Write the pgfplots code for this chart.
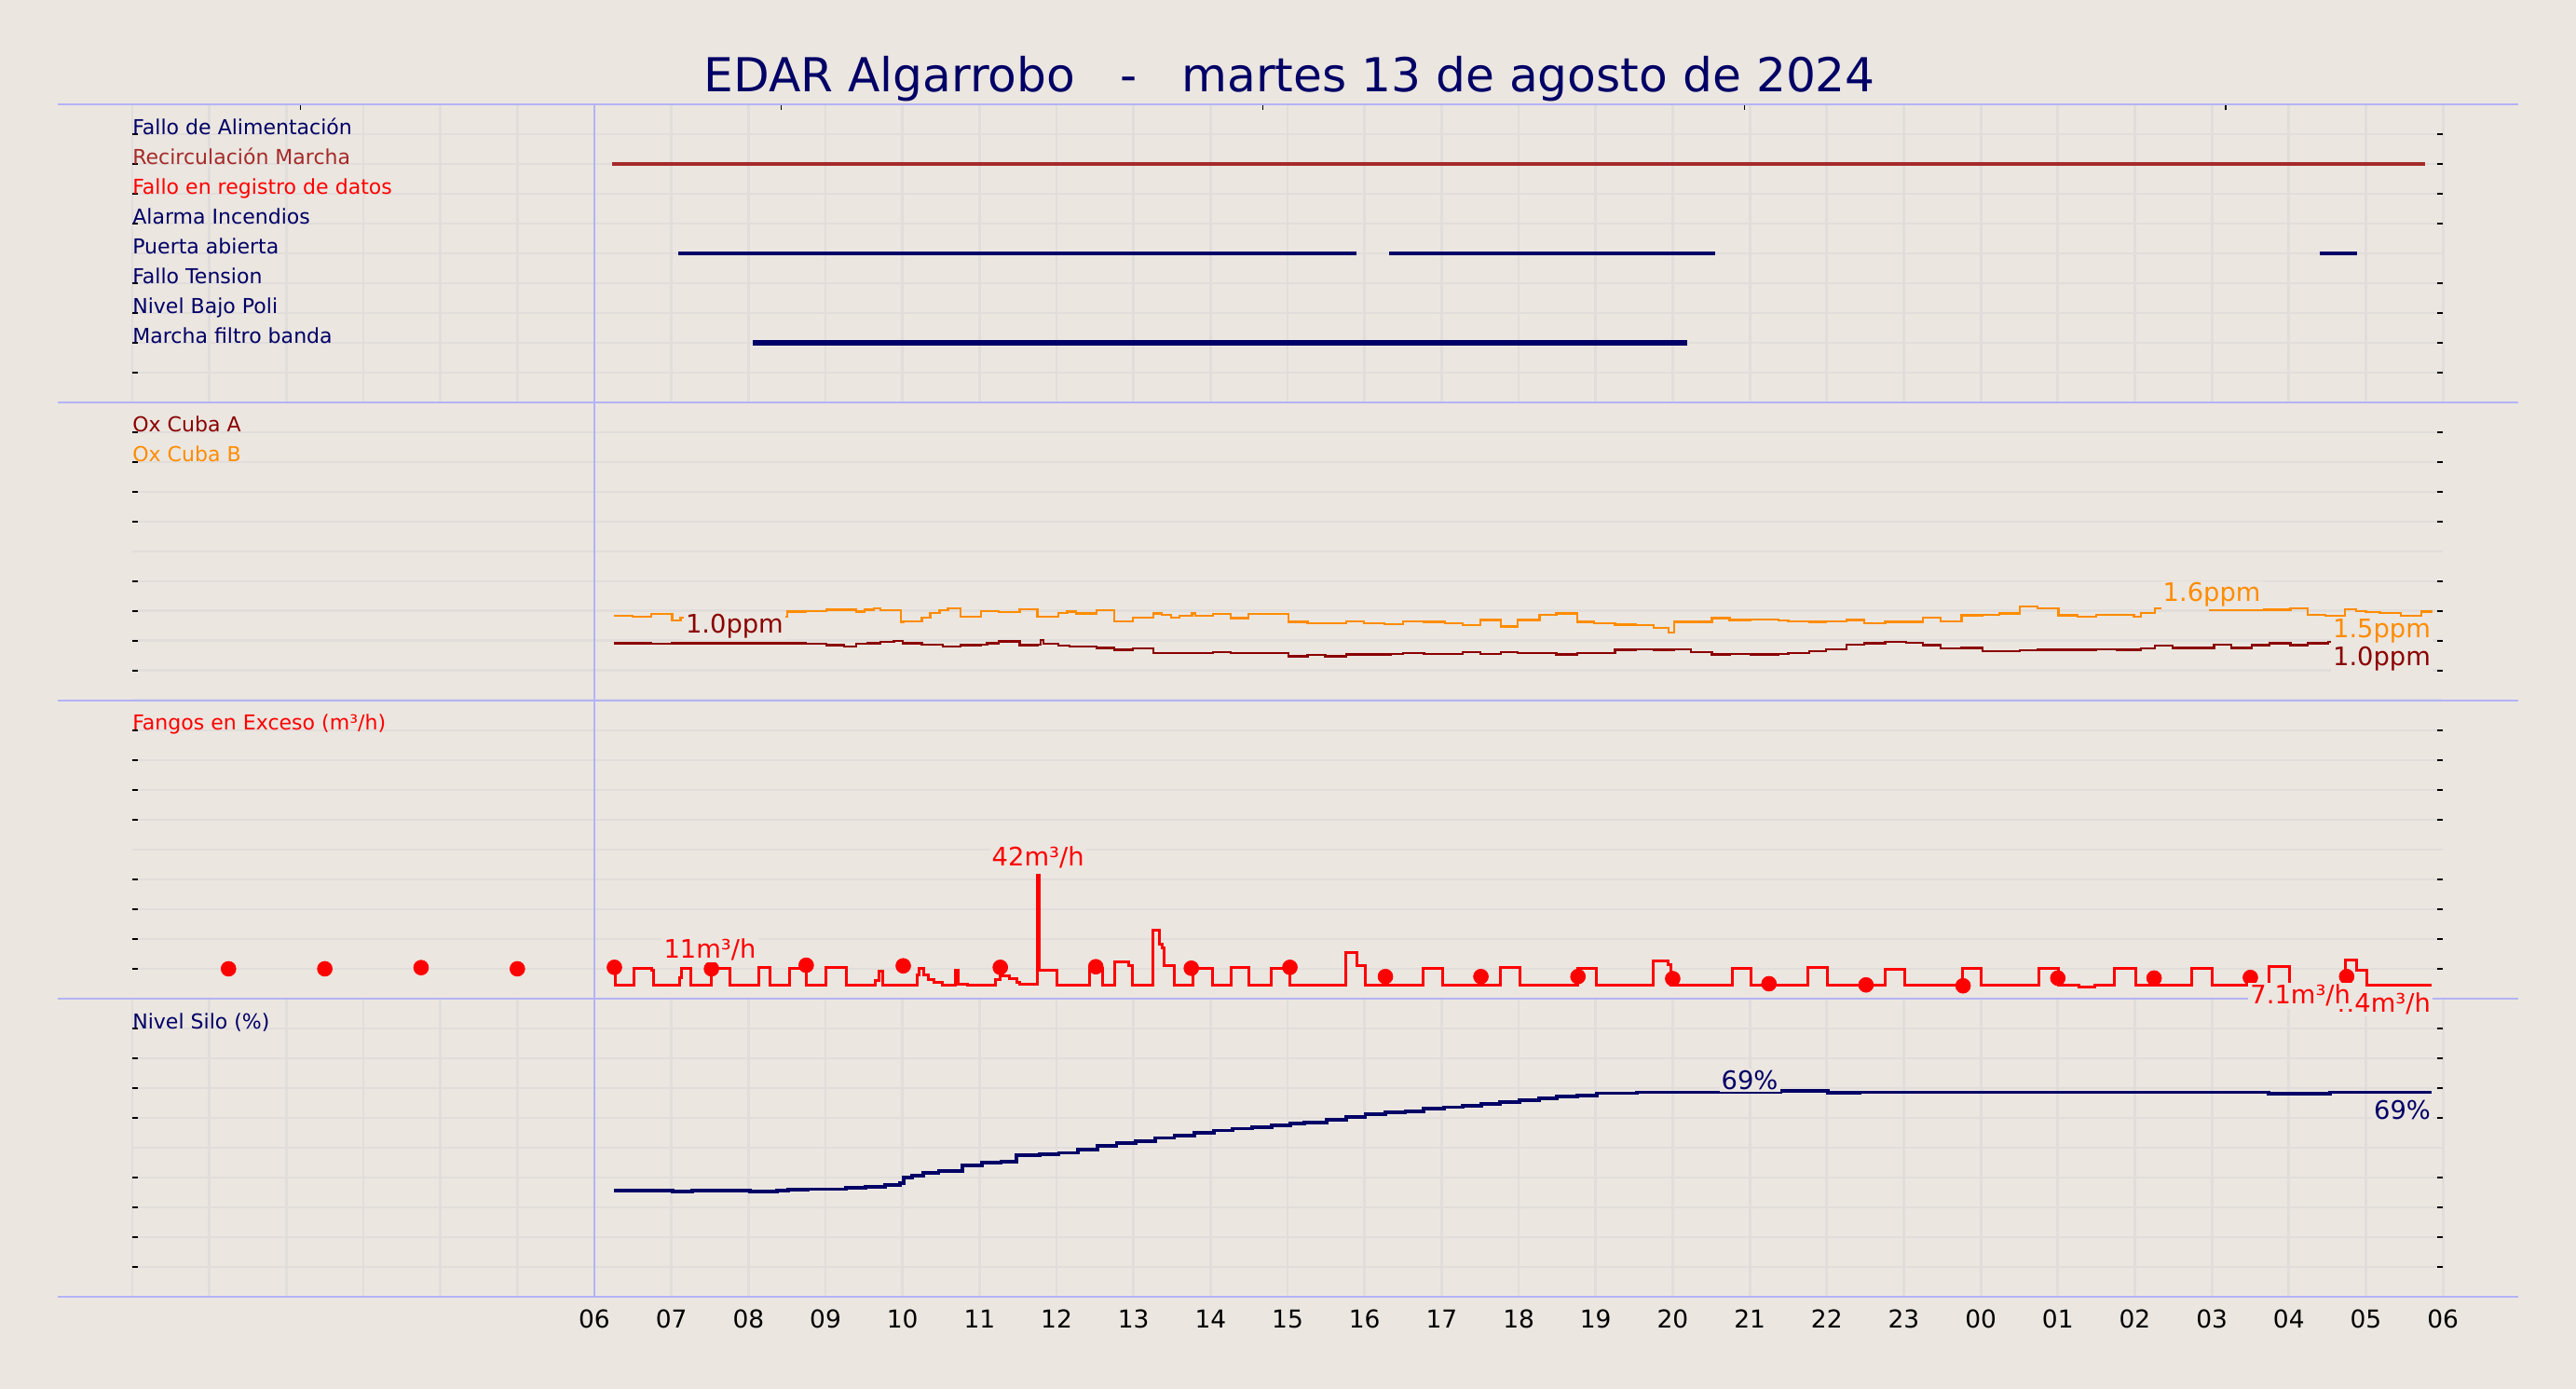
\documentclass[border=0pt]{standalone}
\usepackage{fontspec}
\setmainfont{DejaVu Sans}
\usepackage{pgfplots}
\pgfplotsset{compat=1.18}

\definecolor{bg}{HTML}{EBE6E0}
\definecolor{gridc}{HTML}{E1DDDB}
\definecolor{blueln}{HTML}{B3B3F7}
\definecolor{navyc}{HTML}{000066}
\definecolor{oxa}{HTML}{8B0000}
\definecolor{oxb}{HTML}{FF8C00}
\definecolor{recirc}{HTML}{A52A2A}
\definecolor{fango}{HTML}{FF0000}

\newcommand{\lblfont}{\fontsize{12.5}{15}\selectfont}
\newcommand{\annfont}{\fontsize{15.5}{18}\selectfont}
\newcommand{\hourfont}{\fontsize{15}{18}\selectfont}

\pgfplotsset{
  panel/.style={
    scale only axis, width=1406.5pt, height=181.45pt,
    xmin=0, xmax=30, ymin=0, clip=false,
    axis line style={draw=none},
    xtick=\empty,
    minor xtick={0,1,...,30},
    xminorgrids=true, ymajorgrids=true,
    minor x grid style={gridc, line width=1.6pt},
    major y grid style={gridc, line width=1.6pt},
    minor tick length=0pt, major tick length=3.5pt,
    ytick pos=both, yticklabel=\empty,
    ytick style={black, line width=0.7pt},
    extra y tick labels={},
    extra y tick style={major tick length=0pt, major grid style={gridc, line width=4.5pt}},
  },
}
\tikzset{
  lbl/.style={anchor=base west, inner sep=0pt, font=\lblfont},
  ann/.style={fill=bg, inner sep=1.2pt, font=\annfont},
}

\begin{document}
\begin{tikzpicture}
\fill[bg] (0pt,0pt) rectangle (1568pt,845.5pt);
\useasboundingbox (0pt,0pt) rectangle (1568pt,845.5pt);

\node[navyc, anchor=base, font=\fontsize{28.5}{32}\selectfont] at (785pt,789.5pt)
  {EDAR Algarrobo~~~-~~~martes 13 de agosto de 2024};

% --- panel 1: señales digitales
\begin{axis}[panel, at={(80.5pt,600.5pt)}, anchor=south west,
  ymax=10, ytick={1,2,3,4,6,7,8,9}, extra y ticks={0,5,10},
  xtick={2.18,8.43,14.68,20.93,27.18}, xtick pos=right, xticklabel=\empty,
  xtick style={black, line width=0.6pt}]
\addplot[recirc, line width=1.9pt] coordinates {(6.23,8) (29.77,8)};
\addplot[navyc, line width=1.9pt] coordinates {(7.09,5) (15.90,5)};
\addplot[navyc, line width=1.9pt] coordinates {(16.32,5) (20.55,5)};
\addplot[navyc, line width=1.9pt] coordinates {(28.40,5) (28.89,5)};
\addplot[navyc, line width=3.4pt] coordinates {(8.06,2) (20.19,2)};
\node[lbl, navyc] at (axis cs:0,9) {Fallo de Alimentación};
\node[lbl, recirc] at (axis cs:0,8) {Recirculación Marcha};
\node[lbl, fango] at (axis cs:0,7) {Fallo en registro de datos};
\node[lbl, navyc] at (axis cs:0,6) {Alarma Incendios};
\node[lbl, navyc] at (axis cs:0,5) {Puerta abierta};
\node[lbl, navyc] at (axis cs:0,4) {Fallo Tension};
\node[lbl, navyc] at (axis cs:0,3) {Nivel Bajo Poli};
\node[lbl, navyc] at (axis cs:0,2) {Marcha filtro banda};
\end{axis}

% --- panel 2: oxígeno
\begin{axis}[panel, at={(80.5pt,419.1pt)}, anchor=south west,
  ymax=5, ytick={0.5,1,1.5,2,3,3.5,4,4.5}, extra y ticks={0,2.5,5}]
\addplot[oxb, line width=1.3pt, const plot] coordinates {
(6.25,1.42)(6.50,1.40)(6.74,1.45)(7.01,1.34)(7.12,1.39)(7.25,1.40)(8.0,1.41)(8.50,1.49)
(8.74,1.50)(9.01,1.52)(9.40,1.49)(9.51,1.52)(9.63,1.54)(9.71,1.51)(9.98,1.31)(10.01,1.33)
(10.25,1.39)(10.36,1.47)(10.48,1.51)(10.59,1.54)(10.75,1.40)(11.02,1.50)(11.25,1.48)
(11.52,1.53)(11.75,1.41)(12.02,1.47)(12.14,1.49)(12.25,1.46)(12.52,1.51)(12.75,1.33)
(12.99,1.39)(13.26,1.46)(13.37,1.44)(13.49,1.39)(13.60,1.42)(13.76,1.46)(13.80,1.42)
(14.03,1.45)(14.26,1.38)(14.49,1.45)(15.01,1.32)(15.26,1.30)(15.49,1.29)(15.76,1.33)
(15.99,1.30)(16.26,1.28)(16.50,1.33)(16.77,1.32)(17.04,1.29)(17.27,1.26)(17.50,1.35)
(17.77,1.24)(17.99,1.35)(18.27,1.44)(18.49,1.46)(18.76,1.32)(18.98,1.30)(19.25,1.27)
(19.52,1.26)(19.75,1.22)(19.95,1.14)(20.02,1.32)(20.51,1.38)(20.74,1.35)(21.01,1.36)
(21.37,1.34)(21.50,1.33)(21.77,1.32)(21.99,1.33)(22.26,1.35)(22.49,1.30)(22.76,1.32)
(23.25,1.39)(23.48,1.33)(23.75,1.43)(24.02,1.44)(24.24,1.46)(24.51,1.58)(24.74,1.55)
(25.01,1.43)(25.26,1.40)(25.50,1.44)(25.99,1.40)(26.08,1.47)(26.26,1.54)(26.98,1.52)
(27.75,1.52)(28.02,1.54)(28.24,1.44)(28.47,1.42)(28.73,1.53)(28.87,1.50)(29.00,1.48)
(29.18,1.47)(29.45,1.42)(29.72,1.49)(29.86,1.49)};
\addplot[oxa, line width=1.3pt, const plot] coordinates {
(6.25,0.96)(6.74,0.95)(7.01,0.96)(8.50,0.96)(8.74,0.95)(9.01,0.93)(9.24,0.91)(9.40,0.95)
(9.55,0.96)(9.71,0.98)(9.89,1.00)(10.00,0.96)(10.25,0.94)(10.52,0.91)(10.75,0.93)
(11.02,0.94)(11.10,0.96)(11.25,0.99)(11.52,0.93)(11.75,0.94)(11.79,1.01)(11.83,0.95)
(12.02,0.92)(12.17,0.90)(12.52,0.88)(12.75,0.85)(12.99,0.87)(13.26,0.79)(13.49,0.80)
(13.60,0.79)(13.80,0.80)(14.03,0.81)(14.26,0.79)(14.49,0.80)(14.76,0.79)(15.01,0.74)
(15.26,0.76)(15.49,0.74)(15.76,0.77)(16.34,0.78)(16.50,0.79)(16.77,0.78)(17.04,0.78)
(17.27,0.81)(17.50,0.78)(17.77,0.81)(17.99,0.80)(18.49,0.77)(18.76,0.79)(18.98,0.80)
(19.25,0.85)(19.52,0.86)(19.75,0.85)(20.02,0.86)(20.24,0.81)(20.51,0.77)(20.74,0.78)
(21.01,0.77)(21.37,0.78)(21.50,0.80)(21.77,0.83)(21.99,0.86)(22.26,0.94)(22.49,0.96)
(22.76,0.98)(23.03,0.97)(23.25,0.93)(23.48,0.87)(23.75,0.88)(24.02,0.83)(24.51,0.84)
(24.74,0.85)(25.50,0.86)(25.77,0.85)(26.08,0.87)(26.26,0.92)(26.49,0.88)(27.03,0.94)
(27.25,0.88)(27.52,0.93)(27.75,0.96)(28.02,0.93)(28.24,0.96)(28.51,0.98)(28.73,0.93)
(29.05,0.97)(29.72,1.01)(29.86,1.01)};
\node[lbl, oxa] at (axis cs:0,4.5) {Ox Cuba A};
\node[lbl, oxb] at (axis cs:0,4.0) {Ox Cuba B};
\coordinate (a1) at (axis cs:7.82,1.25);
\coordinate (a2) at (axis cs:27.0,1.77);
\coordinate (a3) at (axis cs:29.87,1.17);
\coordinate (a4) at (axis cs:29.87,0.70);
\end{axis}

% --- panel 3: fangos en exceso
\begin{axis}[panel, at={(80.5pt,237.6pt)}, anchor=south west,
  ymax=100, ytick={10,20,30,40,60,70,80,90}, extra y ticks={0,50,100}]
\addplot[fango, line width=1.7pt, const plot] coordinates {
(6.26,11)(6.27,4.6)(6.51,10.3)(6.74,9.5)(6.77,4.6)(7.11,7)(7.13,10.3)(7.25,4.6)
(7.52,10.2)(7.76,4.6)(8.14,10.5)(8.28,4.6)(8.53,10.2)(8.75,4.6)(9.00,10.5)(9.27,4.6)
(9.65,6)(9.70,9.3)(9.74,4.6)(10.19,8)(10.22,10.3)(10.28,8)(10.34,6.5)(10.41,5.6)
(10.52,4.6)(10.69,9.5)(10.72,4.9)(10.84,4.6)(11.21,6.3)(11.27,7.6)(11.39,6.7)(11.49,5.5)
(11.52,4.9)(11.75,41.5)(11.78,9.4)(12.01,4.6)(12.43,10.3)(12.60,4.6)(12.75,12.2)
(12.94,11.2)(12.99,4.6)(13.25,22.9)(13.34,18.3)(13.37,17)(13.40,11.2)(13.53,4.6)
(13.77,10.2)(14.02,4.6)(14.27,10.5)(14.50,4.6)(14.79,10.3)(15.03,4.6)(15.76,15.4)
(15.90,11.2)(16.01,4.6)(16.76,10)(17.01,4.6)(17.76,10.6)(18.02,4.6)(18.77,10)(19.01,4.6)
(19.75,12.6)(19.94,11.5)(19.98,4.6)(20.77,10)(21.02,4.6)(21.76,10.6)(22.01,4.6)
(22.76,9.8)(23.01,4.6)(23.76,10.2)(24.01,4.6)(24.75,10)(25.01,4.6)(25.27,4.0)(25.48,4.6)
(25.74,10.3)(26.01,4.6)(26.74,10.3)(27.01,4.6)(27.74,10.7)(28.01,4.6)(28.74,13.0)
(28.88,9.5)(29.01,4.4)(29.85,4.4)};
\addplot[only marks, mark=*, mark size=4.5pt, mark options={draw=fango, fill=fango}] coordinates {
(1.25,10)(2.50,10)(3.75,10.4)(5.00,10)(6.26,10.5)(7.52,10)(8.75,11.2)(10.01,11)
(11.27,10.5)(12.51,10.7)(13.75,10.2)(15.03,10.5)(16.27,7.4)(17.51,7.4)(18.77,7.4)
(20.00,6.7)(21.25,5.0)(22.51,4.6)(23.77,4.3)(25.00,6.9)(26.25,6.9)(27.50,7.1)(28.75,7.4)};
\node[lbl, fango] at (axis cs:0,90) {Fangos en Exceso (m³/h)};
\coordinate (a5) at (axis cs:7.5,16.5);
\coordinate (a6) at (axis cs:11.76,47.4);
\coordinate (a7) at (axis cs:28.15,1.0);
\coordinate (a8) at (axis cs:29.87,-1.7);
\end{axis}

% --- panel 4: nivel silo
\begin{axis}[panel, at={(80.5pt,56.1pt)}, anchor=south west,
  ymax=100, ytick={10,20,30,40,60,70,80,90}, extra y ticks={0,50,100},
  xtick={6,...,30}, xtick pos=left, xtick style={draw=none},
  xticklabels={06,07,08,09,10,11,12,13,14,15,16,17,18,19,20,21,22,23,00,01,02,03,04,05,06},
  xticklabel style={font=\hourfont, anchor=base, yshift=-19pt}]
\addplot[navyc, line width=2.2pt, const plot] coordinates {
(6.26,35.5)(7.02,35.2)(7.27,35.5)(8.02,35.2)(8.37,35.6)(8.52,35.9)(8.77,36.1)(9.27,36.7)
(9.52,37.0)(9.77,37.5)(9.97,38.0)(10.02,40.1)(10.12,40.7)(10.27,41.7)(10.47,42.2)
(10.78,44.0)(11.03,44.9)(11.28,45.4)(11.48,47.5)(11.78,47.7)(12.03,48.3)(12.28,49.4)
(12.53,50.6)(12.78,51.5)(13.03,52.2)(13.28,53.3)(13.53,54.1)(13.79,55.0)(14.04,55.8)
(14.29,56.4)(14.54,56.9)(14.79,57.4)(15.04,58.1)(15.22,58.4)(15.51,59.5)(15.76,60.2)
(16.01,61.3)(16.27,61.9)(16.53,62.3)(16.77,63.0)(17.03,63.6)(17.27,64.2)(17.51,64.7)
(17.76,65.4)(18.01,65.9)(18.27,66.6)(18.50,67.1)(18.76,67.6)(19.01,68.3)(19.53,68.6)
(21.40,69.0)(22.01,68.5)(22.43,68.6)(27.74,68.2)(28.53,68.6)(29.85,68.6)};
\node[lbl, navyc] at (axis cs:0,90) {Nivel Silo (\%)};
\coordinate (a9) at (axis cs:21.0,72.8);
\coordinate (a10) at (axis cs:29.87,62.5);
\end{axis}

% separadores
\foreach \yy in {782.0,600.5,419.1,237.6,56.1}
  \draw[blueln, line width=1pt] (35pt,\yy pt) -- (1533pt,\yy pt);
\draw[blueln, line width=0.8pt] (361.8pt,56.1pt) -- (361.8pt,782pt);

% etiquetas de valores
\node[ann, text=oxa] at (a1) {1.0ppm};
\node[ann, text=oxb] at (a2) {1.6ppm};
\node[ann, text=oxb, anchor=east] at (a3) {1.5ppm};
\node[ann, text=oxa, anchor=east] at (a4) {1.0ppm};
\node[ann, text=fango] at (a5) {11m³/h};
\node[ann, text=fango] at (a6) {42m³/h};
\node[ann, text=fango, anchor=east] at (a8) {4.4m³/h};
\node[ann, text=fango] at (a7) {7.1m³/h};
\node[ann, text=navyc] at (a9) {69\%};
\node[ann, text=navyc, anchor=east] at (a10) {69\%};
\end{tikzpicture}
\end{document}
